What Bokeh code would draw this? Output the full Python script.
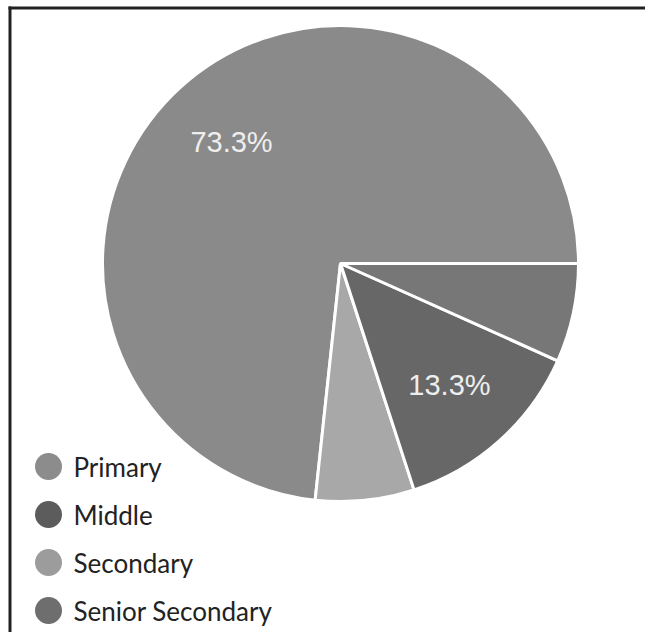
import math
from bokeh.plotting import figure
from bokeh.models import Range1d, ColumnDataSource
from bokeh.core.properties import value
from bokeh.embed import file_html
from bokeh.resources import INLINE

# Data
categories = ["Primary", "Middle", "Secondary", "Senior Secondary"]
percent = [73.3, 13.3, 6.7, 6.7]
colors = ["#8a8a8a", "#676767", "#a8a8a8", "#777777"]
legend_colors = ["#8c8c8c", "#5c5c5c", "#9c9c9c", "#6e6e6e"]
pie_order = ["Primary", "Secondary", "Middle", "Senior Secondary"]

W, H = 645, 632
p = figure(width=W, height=H, output_backend="svg", toolbar_location=None,
           x_range=Range1d(0, W), y_range=Range1d(0, H), min_border=0)
p.axis.visible = False
p.grid.visible = False
p.outline_line_color = None
p.background_fill_color = "white"

cx, cy, r = 340, H - 263, 238
total = sum(percent)
starts, ends, cols, names = [], [], [], []
labels_x, labels_y, labels_t = [], [], []
acc = 0.0
for name in pie_order:
    i = categories.index(name)
    v = percent[i]
    a0 = 2 * math.pi * acc / total
    a1 = 2 * math.pi * (acc + v) / total
    starts.append(a0); ends.append(a1); cols.append(colors[i]); names.append(name)
    if v > 10:
        mid = (a0 + a1) / 2
        labels_x.append(cx + 0.685 * r * math.cos(mid))
        labels_y.append(cy + 0.685 * r * math.sin(mid))
        labels_t.append(f"{v:.1f}%")
    acc += v

src = ColumnDataSource(dict(start=starts, end=ends, color=cols, name=names))
p.wedge(x=cx, y=cy, radius=r, radius_units="screen", start_angle="start", end_angle="end",
        direction="anticlock", fill_color="color", line_color="white", line_width=3, source=src)

p.text(x=labels_x, y=labels_y, text=labels_t, text_color="#eeeeee",
       text_font=value("Liberation Sans"), text_font_size="29px",
       text_align="center", text_baseline="middle")

# Legend
lx = [48] * len(categories)
ly = [H - 466 - 48 * i for i in range(len(categories))]
p.scatter(x=lx, y=ly, size=27, marker="circle", fill_color=legend_colors, line_color=None)
p.text(x=[l + 25 for l in lx], y=ly, text=categories, text_color="#222222",
       text_font=value("Lato"), text_font_size="26px", text_baseline="middle")

# Frame (left and top edges, clipped by the page like the reference)
fx, fy = 9.5, H - 7.5
p.segment(x0=[fx, fx - 1.5], y0=[-5, fy], x1=[fx, W + 5], y1=[fy + 1.5, fy],
          line_color="#222222", line_width=3)

open("out.html", "w").write(file_html(p, INLINE))
